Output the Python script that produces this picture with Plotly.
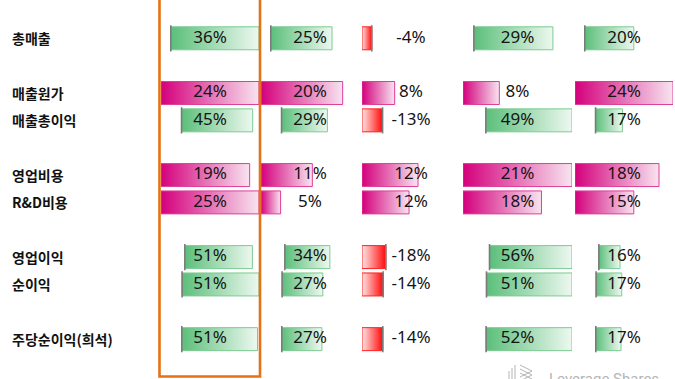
import plotly.graph_objects as go

# ---------------- data ----------------
row_labels = ["총매출", "매출원가", "매출총이익", "영업비용", "R&D비용", "영업이익", "순이익", "주당순이익(희석)"]
row_kind = ["growth", "cost", "growth", "cost", "cost", "growth", "growth", "growth"]
row_slots = [0, 2, 3, 5, 6, 8, 9, 11]

col1 = [36, 24, 45, 19, 25, 51, 51, 51]
col2 = [25, 20, 29, 11, 5, 34, 27, 27]
col3 = [-4, 8, -13, 12, 12, -18, -14, -14]
col4 = [29, 8, 49, 21, 18, 56, 51, 52]
col5 = [20, 24, 17, 18, 15, 16, 17, 17]
columns = [col1, col2, col3, col4, col5]

# ---------------- layout / style ----------------
W, H = 675, 379
col_left = [161, 261, 362, 463, 575]
col_width = [98, 98, 98, 109, 98]
slot_px0, slot_px = 38.3, 27.35
half_h = 0.42

GREEN_SCALE = [[0, "#5BBF7A"], [1, "#EDF8F0"]]
GREEN_LINE = "#7CCB92"
PINK_SCALE = [[0, "#D4007C"], [1, "#F8E4F0"]]
PINK_LINE = "#E03D98"
RED_SCALE = [[0, "#FFE6E6"], [1, "#FF0A0A"]]
RED_LINE = "#FF2020"

fig = go.Figure()

for ci, vals in enumerate(columns):
    sfx = "" if ci == 0 else str(ci + 1)
    xa = "x" + sfx
    for ri in range(len(row_labels)):
        row = [c[ri] for c in columns]
        lo = min(0, min(row))
        hi = max(0, max(row))
        rng = hi - lo
        zero = -lo / rng
        v = vals[ri]
        end = zero + v / rng
        x0, x1 = sorted([zero, end])
        y = row_slots[ri]
        if row_kind[ri] == "cost":
            cs, lc = PINK_SCALE, PINK_LINE
        elif v >= 0:
            cs, lc = GREEN_SCALE, GREEN_LINE
        else:
            cs, lc = RED_SCALE, RED_LINE
        fig.add_trace(go.Scatter(
            x=[x0, x1, x1, x0, x0],
            y=[y - half_h, y - half_h, y + half_h, y + half_h, y - half_h],
            mode="lines", fill="toself",
            fillgradient=dict(type="horizontal", colorscale=cs),
            line=dict(color=lc, width=1),
            xaxis=xa, yaxis="y", hoverinfo="skip", showlegend=False,
        ))
        if lo < 0:
            fig.add_trace(go.Scatter(
                x=[zero, zero], y=[y - 0.48, y + 0.48], mode="lines",
                line=dict(color="#7A7A7A", width=1.6),
                xaxis=xa, yaxis="y", hoverinfo="skip", showlegend=False,
            ))
    fig.add_trace(go.Scatter(
        x=[0.5] * len(vals), y=row_slots, mode="text",
        text=[f"{v}%" for v in vals],
        textfont=dict(family="Noto Sans", size=17, color="#141414"),
        xaxis=xa, yaxis="y", hoverinfo="skip", showlegend=False,
    ))

for ri, lab in enumerate(row_labels):
    fig.add_annotation(
        x=10 / W, xref="paper", xanchor="left",
        y=row_slots[ri], yref="y", yanchor="middle",
        text=lab, showarrow=False,
        font=dict(family="Noto Sans CJK KR", size=14, color="#111111", weight=700),
    )

# highlight box around first column
fig.add_shape(type="rect", xref="paper", yref="paper",
              x0=159.5 / W, x1=260 / W, y0=1 - 376.5 / H, y1=1.05,
              line=dict(color="#E57217", width=2.6), fillcolor="rgba(0,0,0,0)")

# watermark
fig.add_annotation(x=547 / W, xref="paper", xanchor="left",
                   y=1 - 368 / H, yref="paper", yanchor="top",
                   text="Leverage Shares", showarrow=False,
                   font=dict(family="Roboto", size=15, color="#B5B5B5"))
for dx in (0, 3, 6):
    fig.add_shape(type="line", xref="paper", yref="paper",
                  x0=(509 + dx) / W, x1=(509 + dx) / W,
                  y0=1 - (371 - dx) / H, y1=1 - 381 / H,
                  line=dict(color="#B5B5B5", width=1))
for dy in (0, 4, 8):
    fig.add_shape(type="path", xref="paper", yref="paper",
                  path=f"M {520/W},{1-(365+dy)/H} L {532/W},{1-(371+dy)/H} L {520/W},{1-(377+dy)/H}",
                  line=dict(color="#B5B5B5", width=1))

layout = dict(
    width=W, height=H,
    margin=dict(l=0, r=0, t=0, b=0),
    paper_bgcolor="white", plot_bgcolor="white",
    showlegend=False,
    yaxis=dict(range=[(H - slot_px0) / slot_px, -slot_px0 / slot_px], visible=False, fixedrange=True),
)
for ci in range(len(columns)):
    key = "xaxis" if ci == 0 else f"xaxis{ci + 1}"
    layout[key] = dict(domain=[col_left[ci] / W, (col_left[ci] + col_width[ci]) / W],
                       range=[0, 1], visible=False, fixedrange=True, anchor="y")
fig.update_layout(**layout)

fig.write_html("out.html", config={"displayModeBar": False},
               post_script="document.body.style.margin='0';document.body.style.overflow='hidden';")
